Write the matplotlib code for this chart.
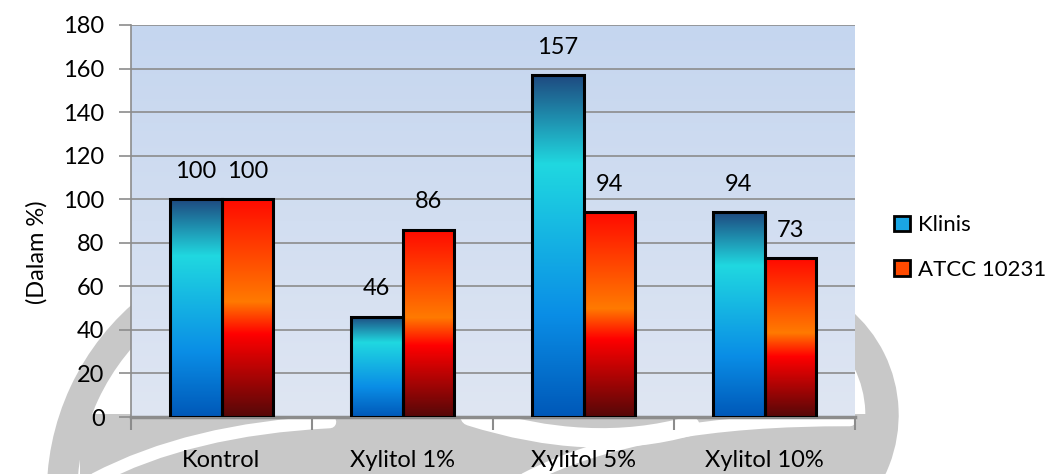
import numpy as np
import matplotlib.pyplot as plt
from matplotlib.colors import LinearSegmentedColormap
from matplotlib.patches import Patch, Arc, Rectangle, PathPatch
from matplotlib.path import Path

categories = ["Kontrol", "Xylitol 1%", "Xylitol 5%", "Xylitol 10%"]
klinis = [100, 46, 157, 94]
atcc = [100, 86, 94, 73]
series_names = ["Klinis", "ATCC 10231"]
yticks = [0, 20, 40, 60, 80, 100, 120, 140, 160, 180]

plt.rcParams['font.family'] = ['Lato', 'DejaVu Sans']
fs = 17

# gradients go bottom -> top
blue_cmap = LinearSegmentedColormap.from_list(
    "blue", [(0.0, "#0058b8"), (0.3, "#0a8ee6"), (0.74, "#20d8e0"), (1.0, "#1e4a80")])
red_cmap = LinearSegmentedColormap.from_list(
    "red", [(0.0, "#550808"), (0.38, "#ff0000"), (0.53, "#ff7a00"), (1.0, "#ff0a00")])
bg_cmap = LinearSegmentedColormap.from_list("bg", ["#dfe6f3", "#c5d6ef"])

fig = plt.figure(figsize=(10.54, 4.74), dpi=100)

# faint watermark behind everything (pixel coords, y up)
wm = fig.add_axes([0, 0, 1, 1], zorder=-5)
wm.set_xlim(0, 1054)
wm.set_ylim(0, 474)
wm.axis("off")
gray = "#c8c8c8"
wm.add_patch(Rectangle((80, 0), 800, 60, color=gray, lw=0))
wm.add_patch(Arc((300, -20), 476, 476, theta1=128, theta2=182, lw=22, color=gray))
wm.add_patch(Arc((760, 59), 244, 244, theta1=-45, theta2=50, lw=24, color=gray))


def swoosh(pts, lw):
    p = Path(pts, [Path.MOVETO, Path.CURVE3, Path.CURVE3])
    wm.add_patch(PathPatch(p, fc="none", ec="white", lw=lw, capstyle="round"))


swoosh([(95, -5), (190, 45), (330, 52)], 9)
swoosh([(470, 58), (590, 20), (690, 48)], 14)
swoosh([(525, -5), (640, 55), (850, 54)], 9)

ax = fig.add_axes([131 / 1054, 1 - 417 / 474, 724 / 1054, 392 / 474])
ax.patch.set_alpha(0)

grad = np.linspace(0, 1, 256).reshape(-1, 1)
ax.imshow(grad, cmap=bg_cmap, aspect="auto", extent=[0, 1, 0, 1],
          transform=ax.transAxes, origin="lower", zorder=0)

ax.set_yticks(yticks)
ax.yaxis.grid(True, color="#8c8c8c", lw=1.2, zorder=1)
ax.set_axisbelow(True)

w = 0.285
x = np.arange(len(categories))
for vals, off, cmap in [(klinis, -w / 2, blue_cmap), (atcc, w / 2, red_cmap)]:
    bars = ax.bar(x + off, vals, w, facecolor="none", edgecolor="black", lw=2.2, zorder=4)
    for b, v in zip(bars, vals):
        x0 = b.get_x()
        ax.imshow(grad, cmap=cmap, aspect="auto", origin="lower",
                  extent=[x0, x0 + w, 0, v], zorder=3)
        ax.text(x0 + w / 2, v + 8, str(v), ha="center", va="bottom", fontsize=fs, zorder=5)

ax.set_xlim(-0.5, len(categories) - 0.5)
ax.set_ylim(0, 180)

ax.set_xticks(np.arange(-0.5, len(categories), 1.0))
ax.set_xticklabels([])
ax.set_xticks(x, minor=True)
ax.set_xticklabels(categories, minor=True, fontsize=fs)
ax.tick_params(axis="x", which="minor", length=0, pad=24)
ax.tick_params(axis="x", which="major", length=9, color="#8c8c8c", width=1.5)
ax.tick_params(axis="y", length=9, color="#8c8c8c", width=1.2, labelsize=fs, pad=10)

for s in ["top", "right"]:
    ax.spines[s].set_visible(False)
ax.spines["left"].set_color("#8c8c8c")
ax.spines["bottom"].set_color("#8c8c8c")
ax.spines["bottom"].set_linewidth(2.5)
ax.spines["left"].set_linewidth(1.2)

ax.set_ylabel("(Dalam %)", fontsize=fs)
ax.yaxis.set_label_coords(-0.115, 0.42)

handles = [Patch(facecolor="#1aa6e4", edgecolor="black", lw=2),
           Patch(facecolor="#ff4a00", edgecolor="black", lw=2)]
fig.legend(handles, series_names, loc="center left", bbox_to_anchor=(0.838, 0.478),
           frameon=False, fontsize=16, handlelength=0.7, handleheight=0.7,
           handletextpad=0.35, labelspacing=1.1, borderpad=0)

fig.savefig("out.png", dpi=100)
